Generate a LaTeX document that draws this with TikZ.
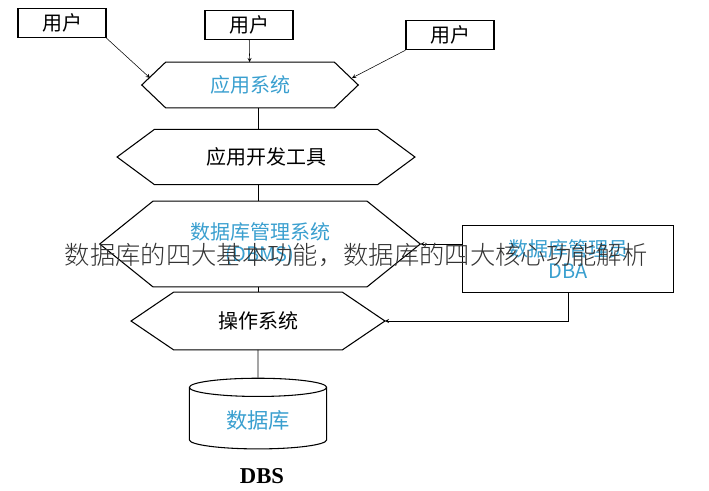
\documentclass[tikz,border=0pt]{standalone}
\usepackage{fontspec}
\setmainfont{Liberation Serif}
\newfontfamily\cjk{Noto Sans CJK SC}
\newfontfamily\cjklight{Noto Sans CJK SC Light}
\usetikzlibrary{shapes.geometric,positioning}
\definecolor{dbblue}{HTML}{3A9FCF}
\tikzset{
  userbox/.style={draw,thick,minimum width=66pt,minimum height=22pt,font=\cjk\fontsize{15}{15}\selectfont},
  hexa/.style={inner sep=0pt,font=\cjk\fontsize{15}{15}\selectfont},
}
% frame of a hexagon round a node
\newcommand\hexframe[2]{\draw[thick] (#1.west) -- ([xshift=#2]#1.north west) -- ([xshift=-#2]#1.north east) -- (#1.east) -- ([xshift=-#2]#1.south east) -- ([xshift=#2]#1.south west) -- cycle;}
\begin{document}
\begin{tikzpicture}[x=0.75pt,y=-0.75pt,>=stealth]
  \useasboundingbox (0,0) rectangle (709,490);
  \node[userbox] (u1) at (62,23) {用户};
  \node[userbox] (u2) at (249,25) {用户};
  \node[userbox] (u3) at (450,35) {用户};
  \node[hexa,minimum width=162pt,minimum height=34pt,text=dbblue] (app) at (250,85) {应用系统};
  \node[hexa,minimum width=223pt,minimum height=41pt] (dev) at (266,157) {应用开发工具};
  \node[hexa,minimum width=240pt,minimum height=64pt,text=dbblue,align=center] (dbms) at (260,244) {数据库管理系统\\[2pt](DBMS)};
  \node[draw,thick,minimum width=158pt,minimum height=50pt,text=dbblue,font=\cjk\fontsize{15}{17}\selectfont,align=center] (dba) at (568,259) {数据库管理员\\DBA};
  \node[hexa,minimum width=190pt,minimum height=43pt] (os) at (258,321) {操作系统};
  \hexframe{app}{18pt}
  \hexframe{dev}{28pt}
  \hexframe{dbms}{40pt}
  \hexframe{os}{32pt}
  \node[draw,thick,cylinder,shape border rotate=90,aspect=0.25,minimum width=103pt,minimum height=53pt,text=dbblue,font=\cjk\fontsize{16}{16}\selectfont] (db) at (258,420) {数据库};
  \node[font=\bfseries\fontsize{17}{17}\selectfont] (dbs) at (262,476) {DBS};
  \coordinate (a1) at (150,78);
  \coordinate (a3) at (352,78);
  \draw[->] (u1.south east) -- (a1);
  \draw[->] (u2) -- (app);
  \draw[->] (u3.south west) -- (a3);
  \draw ([xshift=6pt]app.south) -- ([xshift=6pt]app.south |- dev.north);
  \draw (os.north |- dev.south) -- (os.north |- dbms.north);
  \draw (os.north |- dbms.south) -- (os.north);
  \draw (os) -- (db);
  \draw[->] (dba.west |- dbms.east) -- (dbms.east);
  \draw[->] (dba.south) |- (os.east);
  \node[text=black!80,font=\cjklight\fontsize{19}{19}\selectfont] (mark) at (356,255) {数据库的四大基本功能，数据库的四大核心功能解析};
\end{tikzpicture}
\end{document}
